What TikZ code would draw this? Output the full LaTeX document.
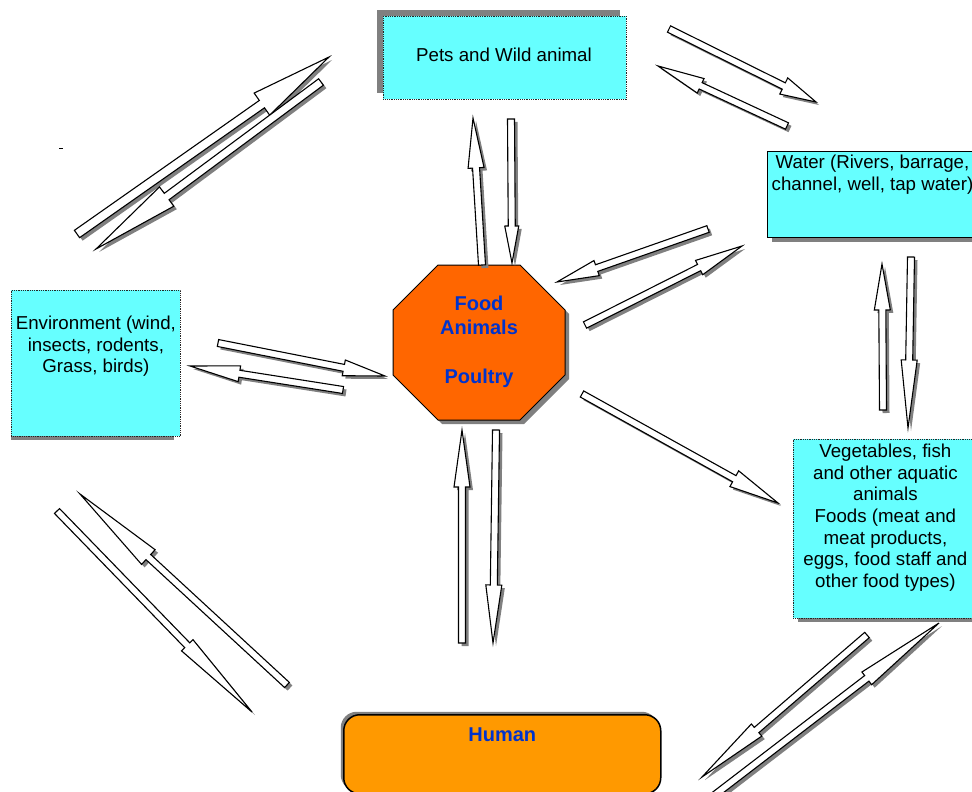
\documentclass[tikz,border=0pt]{standalone}
\usepackage{fontspec}
\setmainfont{Liberation Sans}
\usetikzlibrary{calc,positioning,shadows}

\definecolor{boxcyan}{RGB}{102,255,255}
\definecolor{foodorange}{RGB}{255,102,0}
\definecolor{humanorange}{RGB}{255,153,0}
\definecolor{labelblue}{RGB}{0,51,204}
\definecolor{shadowgray}{RGB}{128,128,128}

\tikzset{
  infobox/.style={fill=boxcyan, draw=black!85, densely dotted, line width=0.8pt, inner sep=0pt},
  boxtext/.style={font=\fontsize{18.7}{21.6}\selectfont, align=center, inner sep=0pt},
  bluetext/.style={font=\fontsize{20}{24.5}\selectfont\bfseries, text=labelblue, align=center, inner sep=0pt},
  blockarrow/.style={draw=black, fill=white, line width=1.1pt, line join=miter},
  arrowshade/.style={fill=shadowgray},
}

% tail, tip, head length, head half width, shaft half width
\newcommand{\blockarrow}[5]{%
  \coordinate (hb) at ($(#2)!#3pt!(#1)$);
  \coordinate (p1) at ($(#1)!#5pt!90:(#2)$);
  \coordinate (p2) at ($(hb)!#5pt!90:(#2)$);
  \coordinate (p3) at ($(hb)!#4pt!90:(#2)$);
  \coordinate (p5) at ($(hb)!#4pt!-90:(#2)$);
  \coordinate (p6) at ($(hb)!#5pt!-90:(#2)$);
  \coordinate (p7) at ($(#1)!#5pt!-90:(#2)$);
  \fill[arrowshade, transform canvas={xshift=3pt,yshift=-3pt}] (p1) -- (p2) -- (p3) -- (#2) -- (p5) -- (p6) -- (p7) -- cycle;
  \draw[blockarrow] (p1) -- (p2) -- (p3) -- (#2) -- (p5) -- (p6) -- (p7) -- cycle;
}

\begin{document}
\begin{tikzpicture}[x=1pt, y=-1pt]
  \useasboundingbox (0,0) rectangle (972,792);
  \clip (0,0) rectangle (972,792);

  % boxes
  \node[infobox, anchor=north west, minimum width=243pt, minimum height=83pt,
        drop shadow={shadow xshift=-6pt, shadow yshift=6pt, fill=shadowgray, opacity=1}]
        (pets) at (383,16) {};
  \node[boxtext] (petstext) at (504,55) {Pets and Wild animal};

  \node[infobox, solid, draw=black, line width=1pt, anchor=north west, minimum width=210pt, minimum height=86pt,
        drop shadow={shadow xshift=4pt, shadow yshift=-4pt, fill=shadowgray, opacity=1}]
        (water) at (767,151) {};
  \node[boxtext, below=4pt of water.north] (watertext) {Water (Rivers, barrage,\\channel, well, tap water)};

  \fill[shadowgray] (11,294) rectangle (174,440);
  \node[infobox, anchor=north west, minimum width=169pt, minimum height=146pt] (env) at (11,290) {};
  \node[boxtext, below=26pt of env.north] (envtext) {Environment (wind,\\insects, rodents,\\Grass, birds)};

  \node[infobox, anchor=north west, minimum width=184pt, minimum height=179pt,
        drop shadow={shadow xshift=5pt, shadow yshift=-4pt, fill=shadowgray, opacity=1}]
        (veg) at (793,439) {};
  \node[boxtext, below=5pt of veg.north] (vegtext) {Vegetables, fish\\and other aquatic\\animals\\Foods (meat and\\meat products,\\eggs, food staff and\\other food types)};

  \node[fill=humanorange, draw=black, line width=1.5pt, rounded corners=16pt, anchor=north west,
        minimum width=317pt, minimum height=79pt,
        drop shadow={shadow xshift=-3pt, shadow yshift=3pt, fill=shadowgray, opacity=1}]
        (human) at (343,714) {};
  \node[bluetext, below=14pt of human.north] (humantext) {Human};

  % octagon
  \draw[fill=foodorange, line width=1pt,
        drop shadow={shadow xshift=4pt, shadow yshift=-4pt, fill=shadowgray, opacity=1}]
    (438,265) -- (520,265) -- (565,310) -- (565,375) -- (520,420) -- (438,420) -- (393,375) -- (393,310) -- cycle;
  \node[bluetext] (food) at (479,342) {Food\\Animals\\[24.5pt]Poultry};

  % stray mark
  \coordinate (mark) at (59,148);
  \draw[line width=1pt] (mark) -- ++(4,0);

  % arrow ends
  \coordinate (envpets-t) at (77,234);   \coordinate (envpets-h) at (329,57);
  \coordinate (petsenv-t) at (321,82);   \coordinate (petsenv-h) at (96,249);
  \coordinate (petswat-t) at (669,29);   \coordinate (petswat-h) at (816,102);
  \coordinate (watpets-t) at (787,126);  \coordinate (watpets-h) at (658,66);
  \coordinate (foodpets-t) at (482,265); \coordinate (foodpets-h) at (473,118);
  \coordinate (petsfood-t) at (511,119); \coordinate (petsfood-h) at (512,263);
  \coordinate (watfood-t) at (708,229);  \coordinate (watfood-h) at (557,282);
  \coordinate (foodwat-t) at (585,325);  \coordinate (foodwat-h) at (742,246);
  \coordinate (vegwat-t) at (883,410);   \coordinate (vegwat-h) at (882,264);
  \coordinate (watveg-t) at (911,257);   \coordinate (watveg-h) at (908,428);
  \coordinate (envfood-t) at (218,343);  \coordinate (envfood-h) at (385,376);
  \coordinate (foodenv-t) at (343,390);  \coordinate (foodenv-h) at (190,366);
  \coordinate (foodveg-t) at (582,394);  \coordinate (foodveg-h) at (778,503);
  \coordinate (humfood-t) at (462,643);  \coordinate (humfood-h) at (462,430);
  \coordinate (foodhum-t) at (496,430);  \coordinate (foodhum-h) at (493,643);
  \coordinate (envhum-t) at (57,511);    \coordinate (envhum-h) at (252,712);
  \coordinate (humenv-t) at (287,685);   \coordinate (humenv-h) at (80,494);
  \coordinate (veghum-t) at (867,635);   \coordinate (veghum-h) at (702,777);
  \coordinate (humveg-t) at (712,797);   \coordinate (humveg-h) at (939,623);

  % arrows
  \blockarrow{envpets-t}{envpets-h}{82}{13.5}{4.5}
  \blockarrow{petsenv-t}{petsenv-h}{88}{12}{4}
  \blockarrow{petswat-t}{petswat-h}{36}{9}{3.5}
  \blockarrow{watpets-t}{watpets-h}{47}{8}{3.5}
  \blockarrow{foodpets-t}{foodpets-h}{50}{8}{3.5}
  \blockarrow{petsfood-t}{petsfood-h}{37}{7}{3.5}
  \blockarrow{watfood-t}{watfood-h}{42}{8}{3.5}
  \blockarrow{foodwat-t}{foodwat-h}{48}{8}{3.5}
  \blockarrow{vegwat-t}{vegwat-h}{46}{8}{3.5}
  \blockarrow{watveg-t}{watveg-h}{68}{8}{3.5}
  \blockarrow{envfood-t}{envfood-h}{42}{8}{3.5}
  \blockarrow{foodenv-t}{foodenv-h}{50}{8}{3.5}
  \blockarrow{foodveg-t}{foodveg-h}{50}{9}{3.5}
  \blockarrow{humfood-t}{humfood-h}{57}{8}{3.5}
  \blockarrow{foodhum-t}{foodhum-h}{58}{8}{3.5}
  \blockarrow{envhum-t}{envhum-h}{93}{8}{3.5}
  \blockarrow{humenv-t}{humenv-h}{93}{10}{3.5}
  \blockarrow{veghum-t}{veghum-h}{72}{8}{3.5}
  \blockarrow{humveg-t}{humveg-h}{91}{8}{3.5}
\end{tikzpicture}
\end{document}
